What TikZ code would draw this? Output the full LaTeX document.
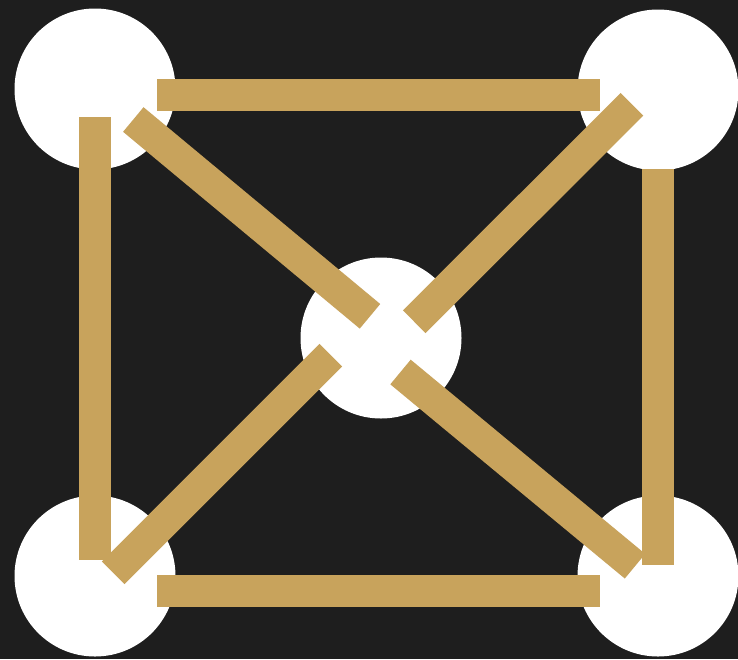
\documentclass[tikz,border=0pt]{standalone}
\usepackage{tikz}
\usetikzlibrary{positioning}
\definecolor{grund}{HTML}{1E1E1E}
\definecolor{gold}{HTML}{C8A35C}

\tikzset{
  knoten/.style={circle, fill=white, minimum size=161pt, inner sep=0pt},
  balken/.style={gold, line width=32pt, line cap=butt}
}

\begin{document}
\begin{tikzpicture}[x=1pt, y=-1pt]
      % Hintergrund
      \fill[grund] (0,0) rectangle (738,659);
      \useasboundingbox (0,0) rectangle (738,659);

      % Knoten
      \node[knoten] (ol) at (95,89)   {};
      \node[knoten] (or) at (658,90)  {};
      \node[knoten] (mi) at (381,338) {};
      \node[knoten] (ul) at (95,576)  {};
      \node[knoten] (ur) at (658,576) {};

      % Endpunkte
      \coordinate (o1) at (157,95);    \coordinate (o2) at (600,95);
      \coordinate (u1) at (157,591);   \coordinate (u2) at (600,591);
      \coordinate (l1) at (95,117);    \coordinate (l2) at (95,560);
      \coordinate (r1) at (658,169);   \coordinate (r2) at (658,565);
      \coordinate (d1) at (133.3,119.5); \coordinate (d2) at (370,316.3);
      \coordinate (e1) at (632,104.3);   \coordinate (e2) at (414.2,321.7);
      \coordinate (f1) at (330.8,355.2); \coordinate (f2) at (113.3,572.8);
      \coordinate (g1) at (400.5,372);   \coordinate (g2) at (635,566.2);

      % Balken
      \draw[balken] (o1) -- (o2);
      \draw[balken] (u1) -- (u2);
      \draw[balken] (l1) -- (l2);
      \draw[balken] (r1) -- (r2);
      \draw[balken] (d1) -- (d2);
      \draw[balken] (e1) -- (e2);
      \draw[balken] (f1) -- (f2);
      \draw[balken] (g1) -- (g2);
    \end{tikzpicture}
\end{document}
